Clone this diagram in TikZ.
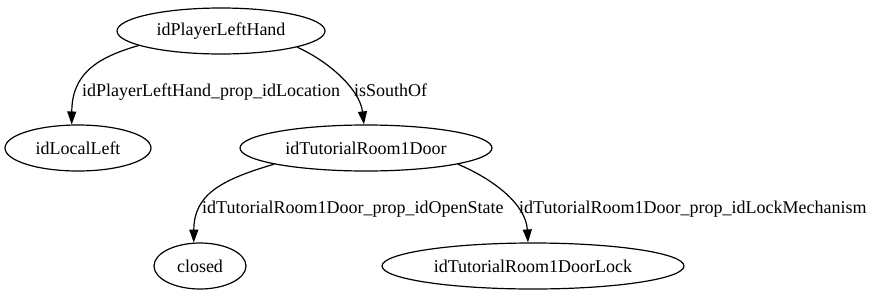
\documentclass[tikz,border=0pt]{standalone}
\usepackage{fontspec}
\setmainfont{Liberation Serif}
\usetikzlibrary{shapes.geometric,arrows.meta}
\begin{document}
\begin{tikzpicture}[x=1pt,y=-1pt,
  every node/.style={font=\fontsize{18}{20}\selectfont},
  state/.style={ellipse,draw,line width=1.2pt,inner sep=0pt,minimum height=46pt},
  edge/.style={line width=1.2pt,-{Triangle[length=13pt,width=9pt]}},
  elabel/.style={anchor=base west,inner sep=0pt}]
  \useasboundingbox (0,0) rectangle (876,295);
  % nodes
  \node[state,minimum width=208pt] (hand) at (221,31) {idPlayerLeftHand};
  \node[state,minimum width=146pt] (local) at (78,148) {idLocalLeft};
  \node[state,minimum width=252pt] (door) at (366,148) {idTutorialRoom1Door};
  \node[state,minimum width=92pt] (closed) at (200,266) {closed};
  \node[state,minimum width=302pt] (lock) at (533,266) {idTutorialRoom1DoorLock};
  % edges
  \draw[edge] (hand.190) .. controls (95,58) and (72,75) .. (local.105);
  \draw[edge] (hand.-12) .. controls (330,62) and (360,90) .. (door.95);
  \draw[edge] (door.190) .. controls (220,180) and (194,195) .. (closed.105);
  \draw[edge] (door.-10) .. controls (495,180) and (526,205) .. (lock.102);
  % edge labels
  \node[elabel] (l1) at (82,96) {idPlayerLeftHand\_prop\_idLocation};
  \node[elabel] (l2) at (354,96) {isSouthOf};
  \node[elabel] (l3) at (202,213) {idTutorialRoom1Door\_prop\_idOpenState};
  \node[elabel] (l4) at (519,213) {idTutorialRoom1Door\_prop\_idLockMechanism};
\end{tikzpicture}
\end{document}
